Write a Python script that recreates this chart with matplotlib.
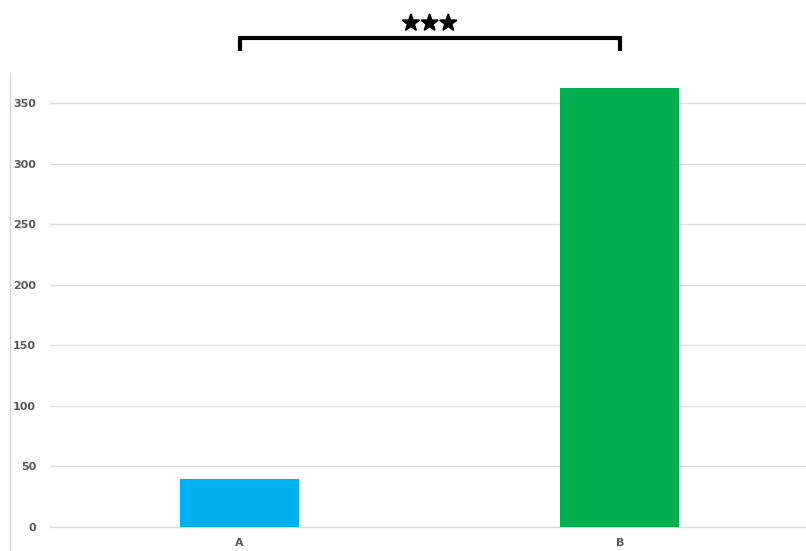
import matplotlib.pyplot as plt
import matplotlib.patheffects as pe
from matplotlib.lines import Line2D

categories = ['A', 'B']
values = [39.5, 363]
colors = ['#00b0f0', '#00b050']
yticks = [0, 50, 100, 150, 200, 250, 300, 350]
signif = '\u2605\u2605\u2605'

fig = plt.figure(figsize=(8.06, 5.51), dpi=100)
ax = fig.add_axes([50 / 806, 24 / 551, 756 / 806, 454 / 551])

x = list(range(len(categories)))
ax.bar(x, values, width=0.313, color=colors, zorder=3)

ax.set_xlim(-0.499, 1.49)
ax.set_ylim(0, 375)
ax.set_yticks(yticks)
ax.set_xticks(x)
ax.set_xticklabels(categories)
ax.grid(axis='y', color='#dedede', linewidth=1, zorder=0)
ax.axhline(0, color='#dedede', linewidth=1, zorder=1, clip_on=False)
for s in ax.spines.values():
    s.set_visible(False)
ax.tick_params(length=0, labelsize=8, labelcolor='#595959', pad=10)
ax.tick_params(axis='x', pad=8)
for lbl in ax.get_xticklabels() + ax.get_yticklabels():
    lbl.set_fontweight('bold')

# significance bracket between the two bars
bx = [0, 0, 1, 1]
by = [393, 403.5, 403.5, 393]
ax.plot(bx, by, color='black', linewidth=3, solid_capstyle='butt',
        solid_joinstyle='miter', clip_on=False)
ax.text(0.5, 407.5, signif, ha='center', va='bottom', fontsize=15,
        color='black', clip_on=False,
        path_effects=[pe.withStroke(linewidth=1.5, foreground='black')])

# thin frame line on the left edge
fig.add_artist(Line2D([10 / 806, 10 / 806], [0, 1 - 73 / 551],
                      transform=fig.transFigure, color='#d9d9d9', linewidth=1))

fig.savefig('out.png', dpi=100)
